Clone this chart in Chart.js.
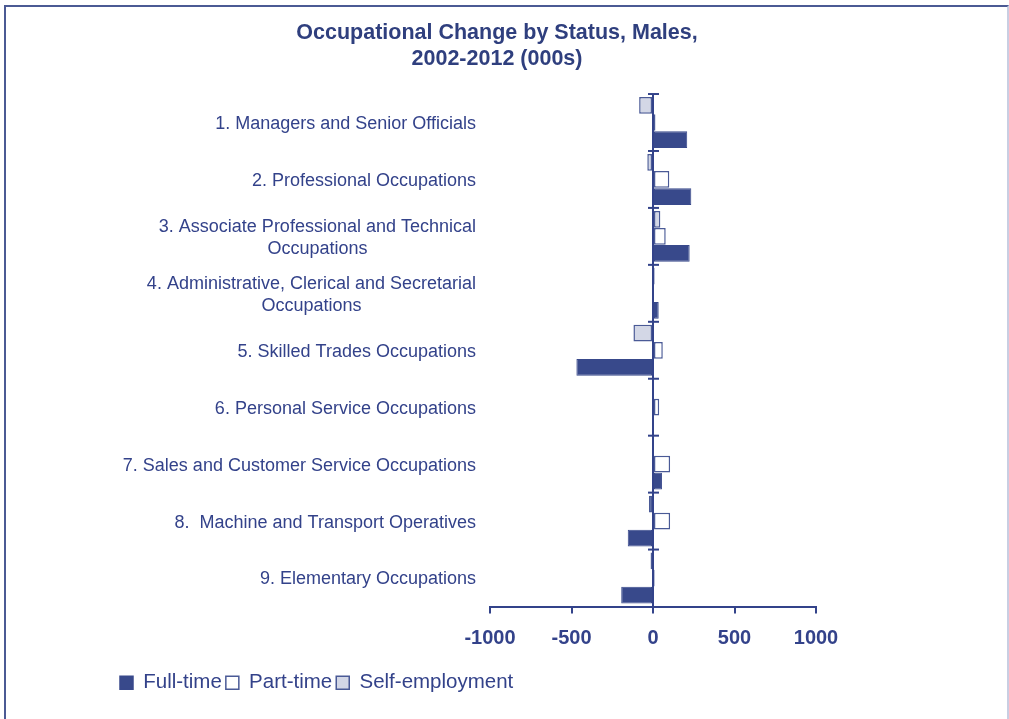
<!DOCTYPE html>
<html>
<head>
<meta charset="utf-8">
<script src="https://cdn.jsdelivr.net/npm/chart.js@4.4.1/dist/chart.umd.min.js"></script>
<style>
  html, body { margin: 0; padding: 0; background: #ffffff; }
  body { width: 1009px; height: 719px; position: relative; overflow: hidden; }
  #frame { position: absolute; left: 4px; top: 5px; width: 1001px; height: 730px;
           border-left: 2px solid #4b5a94; border-top: 2px solid #4b5a94; border-right: 2px solid #c9cee2; }
  #wrap { position: absolute; left: 116px; top: 0px; width: 762px; height: 719px; }
</style>
</head>
<body>
<div id="frame"></div>
<div id="wrap"><canvas id="c"></canvas></div>
<script>
const categories = [
  ["1. Managers and Senior Officials"],
  ["2. Professional Occupations"],
  ["3. Associate Professional and Technical", "Occupations"],
  ["4. Administrative, Clerical and Secretarial", "Occupations"],
  ["5. Skilled Trades Occupations"],
  ["6. Personal Service Occupations"],
  ["7. Sales and Customer Service Occupations"],
  ["8.  Machine and Transport Operatives"],
  ["9. Elementary Occupations"]
];
const fullTime       = [210, 235, 225, 35, -470, 3, 55, -155, -195];
const partTime       = [15, 100, 78, 0, 60, 38, 105, 105, 10];
const selfEmployment = [-85, -35, 45, 10, -120, 0, 0, -25, -15];
const xTicks = [-1000, -500, 0, 500, 1000];

const TITLE = ["Occupational Change by Status, Males,", "2002-2012 (000s)"];
const BLUE = "#33438a";
const TEXT = "#33428a";
const FONT = "'Liberation Sans', Arial, sans-serif";

const overlay = {
  id: 'overlay',
  afterDatasetsDraw(chart) {
    const ctx = chart.ctx;
    const xs = chart.scales.x, ys = chart.scales.y;
    const ca = chart.chartArea;
    const x0 = xs.getPixelForValue(0);
    ctx.save();
    ctx.strokeStyle = BLUE;
    ctx.lineWidth = 2;
    ctx.beginPath();
    ctx.moveTo(x0, ca.top);
    ctx.lineTo(x0, ca.bottom);
    ctx.stroke();
    const half = (ys.getPixelForValue(1) - ys.getPixelForValue(0)) / 2;
    for (let i = 0; i < categories.length; i++) {
      const y = ys.getPixelForValue(i) - half;
      ctx.beginPath();
      ctx.moveTo(x0 - 5, y);
      ctx.lineTo(x0 + 6, y);
      ctx.stroke();
    }
    // category labels: block right-aligned, lines centred within block
    ctx.font = "18px " + FONT;
    ctx.fillStyle = TEXT;
    ctx.textAlign = "center";
    ctx.textBaseline = "middle";
    const right = ca.left - 14;
    const lh = 22;
    categories.forEach((lines, i) => {
      const yc = ys.getPixelForValue(i) + 1.5;
      const w = Math.max(...lines.map(l => ctx.measureText(l).width));
      const cx = right - w / 2;
      const top = yc - (lines.length - 1) * lh / 2;
      lines.forEach((l, k) => ctx.fillText(l, cx, top + k * lh));
    });
    ctx.restore();
  }
};

new Chart(document.getElementById('c'), {
  type: 'bar',
  data: {
    labels: categories,
    datasets: [
      { label: 'Self-employment', data: selfEmployment, backgroundColor: '#d3d7e6', borderColor: '#4a5a96', borderWidth: 1.5, borderSkipped: false },
      { label: 'Part-time', data: partTime, backgroundColor: '#ffffff', borderColor: '#4a5a96', borderWidth: 1.5, borderSkipped: false },
      { label: 'Full-time', data: fullTime, backgroundColor: '#38498b', borderColor: '#38498b', borderWidth: 1, borderSkipped: false }
    ]
  },
  options: {
    indexAxis: 'y',
    responsive: true,
    maintainAspectRatio: false,
    animation: false,
    categoryPercentage: 0.9,
    barPercentage: 0.98,
    layout: { padding: { left: 0, right: 0, top: 0, bottom: 16 } },
    scales: {
      x: {
        min: -1000, max: 1000,
        afterBuildTicks(s) { s.ticks = xTicks.map(v => ({ value: v })); },
        afterFit(s) { s.height = 62; },
        border: { display: true, color: BLUE, width: 2 },
        grid: { display: true, drawOnChartArea: false, drawTicks: true, tickLength: 7, color: BLUE, lineWidth: 2 },
        ticks: { color: TEXT, padding: 13, font: { family: FONT, size: 20, weight: 'bold' },
                 callback: (v) => String(v) }
      },
      y: {
        offset: true,
        afterFit(s) { s.width = 374; },
        border: { display: false },
        grid: { display: false },
        ticks: { display: false }
      },
      yPad: {
        type: 'linear',
        position: 'right',
        display: true,
        afterFit(s) { s.width = 62; },
        border: { display: false },
        grid: { display: false },
        ticks: { display: false }
      }
    },
    plugins: {
      title: {
        display: true,
        text: TITLE,
        color: '#2f3f7e',
        font: { family: FONT, size: 21.5, weight: 'bold', lineHeight: 1.21 },
        padding: { top: 20, bottom: 22 }
      },
      legend: {
        display: true,
        position: 'bottom',
        align: 'start',
        reverse: true,
        labels: {
          color: TEXT,
          font: { family: FONT, size: 20.5 },
          boxWidth: 13, boxHeight: 13,
          padding: 4,
          generateLabels(chart) {
            return chart.data.datasets.map((d, i) => ({
              text: d.label, fillStyle: d.backgroundColor, strokeStyle: d.borderColor,
              lineWidth: 1.5, hidden: false, datasetIndex: i, fontColor: TEXT
            }));
          }
        }
      },
      tooltip: { enabled: false }
    }
  },
  plugins: [overlay]
});
</script>
</body>
</html>
